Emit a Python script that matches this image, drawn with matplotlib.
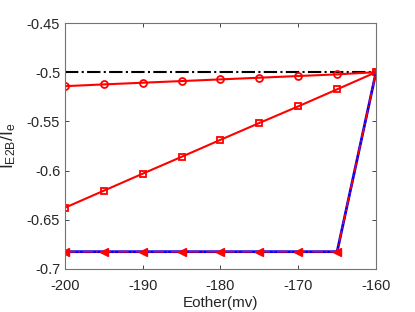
import numpy as np
import matplotlib.pyplot as plt

plt.rcParams['font.family'] = ['Liberation Sans', 'DejaVu Sans']
plt.rcParams['mathtext.fontset'] = 'custom'
plt.rcParams['mathtext.rm'] = 'Liberation Sans'
plt.rcParams['axes.unicode_minus'] = False

eother = [-200, -195, -190, -185, -180, -175, -170, -165, -160]
ref_line = [-0.5] * 9
circ = [-0.5142, -0.5124, -0.5107, -0.5090, -0.5073, -0.5056, -0.5039, -0.5022, -0.5]
sq = [-0.6377, -0.6204, -0.6031, -0.5860, -0.5687, -0.5516, -0.5347, -0.5174, -0.5]
tri = [-0.6824, -0.6824, -0.6824, -0.6824, -0.6824, -0.6824, -0.6824, -0.6824, -0.5]

fig = plt.figure(figsize=(4.15, 3.12), dpi=100)
ax = fig.add_axes([65/415, 1-269/312, 311/415, 246/312])

ax.plot(eother, ref_line, color='k', ls='-.', lw=1.5)
ax.plot(eother, circ, color='r', lw=1.5, marker='o', ms=5, mfc='none', mew=1.3)
ax.plot(eother, sq, color='r', lw=1.5, marker='s', ms=5, mfc='none', mew=1.3)
ax.plot(eother, tri, color='b', lw=2)
ax.plot(eother, tri, color='r', lw=1.2, ls='-.', marker='<', ms=5.5, mew=1)

ax.set_xlim(-200, -160)
ax.set_ylim(-0.7, -0.45)
ax.set_xticks([-200, -190, -180, -170, -160])
ax.set_yticks([-0.7, -0.65, -0.6, -0.55, -0.5, -0.45])
ax.set_yticklabels(['-0.7', '-0.65', '-0.6', '-0.55', '-0.5', '-0.45'])
ax.tick_params(direction='in', top=True, right=True, labelsize=10.5, colors='0.15', length=3, width=0.6)
ax.tick_params(axis='x', pad=7)
for s in ax.spines.values():
    s.set_color('0.45')
    s.set_linewidth(0.8)
ax.set_xlabel('Eother(mv)', fontsize=11, color='0.15', labelpad=2)
ax.set_ylabel(r'$\mathregular{I_{E2B}/I_e}$', fontsize=12.5, color='0.15', labelpad=6)

fig.savefig('out.png', dpi=100)
